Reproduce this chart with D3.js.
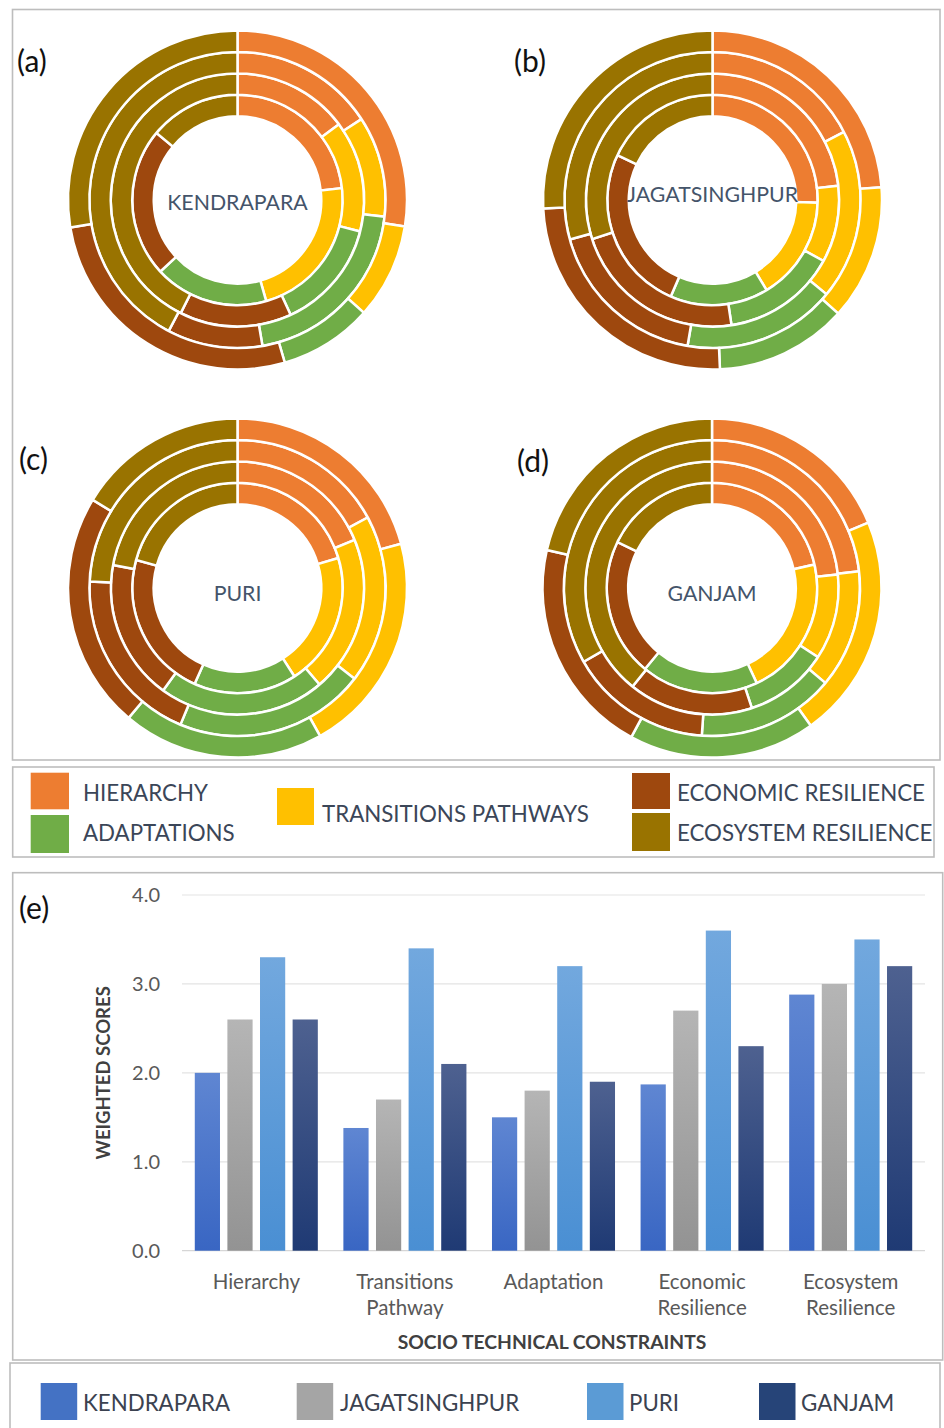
<!DOCTYPE html>
<html>
<head>
<meta charset="utf-8">
<script src="https://cdn.jsdelivr.net/npm/d3@7"></script>
<style>
  html, body { margin: 0; padding: 0; background: #ffffff; }
  svg { display: block; }
  text { font-family: Lato, "Open Sans", "Liberation Sans", sans-serif; }
</style>
</head>
<body>
<svg id="fig" width="944" height="1428"></svg>
<script>
// ---- constraint categories shared by the ring charts ----
const constraints = ["HIERARCHY", "TRANSITIONS PATHWAYS", "ADAPTATIONS", "ECONOMIC RESILIENCE", "ECOSYSTEM RESILIENCE"];
const constraintColors = ["#ED7D31", "#FFC000", "#70AD47", "#9E480E", "#997300"];

// ---- districts ----
const districts = ["KENDRAPARA", "JAGATSINGHPUR", "PURI", "GANJAM"];
const panelTags = ["(a)", "(b)", "(c)", "(d)"];

// ring shares (%) per district, innermost ring first; order follows `constraints`
const kendraparaRings = [
  [23.2, 22.4, 17.5, 22.9, 14.0],
  [14.8, 14.2, 14.1, 14.3, 42.6],
  [15.8, 11.0, 20.5, 10.4, 42.3],
  [27.5, 9.1, 8.9, 26.9, 27.6]
];
const jagatsinghpurRings = [
  [25.4, 16.0, 15.1, 25.5, 18.0],
  [23.2, 9.8, 14.6, 22.4, 30.0],
  [17.4, 18.6, 16.7, 18.0, 29.3],
  [23.8, 12.9, 12.6, 24.9, 25.8]
];
const puriRings = [
  [20.4, 20.5, 15.8, 22.6, 20.7],
  [18.8, 20.0, 21.2, 17.9, 22.1],
  [17.1, 18.4, 20.8, 19.4, 24.3],
  [20.8, 21.1, 19.2, 22.6, 16.3]
];
const ganjamRings = [
  [21.4, 21.6, 18.0, 21.2, 17.8],
  [23.3, 10.9, 10.7, 15.9, 39.2],
  [23.2, 12.9, 15.0, 15.6, 33.3],
  [18.7, 21.4, 17.8, 20.7, 21.4]
];

// ---- weighted scores (bar chart) ----
const barCategories = ["Hierarchy", "Transitions Pathway", "Adaptation", "Economic Resilience", "Ecosystem Resilience"];
const categoryLabelLines = [["Hierarchy"], ["Transitions", "Pathway"], ["Adaptation"], ["Economic", "Resilience"], ["Ecosystem", "Resilience"]];
const kendraparaScores = [2.0, 1.38, 1.5, 1.87, 2.88];
const jagatsinghpurScores = [2.6, 1.7, 1.8, 2.7, 3.0];
const puriScores = [3.3, 3.4, 3.2, 3.6, 3.5];
const ganjamScores = [2.6, 2.1, 1.9, 2.3, 3.2];
const yTicks = [0, 1, 2, 3, 4];
const districtColors = ["#4472C4", "#A5A5A5", "#5B9BD5", "#264478"];
const districtGradients = [["#5f86d2", "#3966c3"], ["#b5b5b5", "#939393"], ["#72a8de", "#4a8fd3"], ["#4e6190", "#1f3a74"]];

const ringSets = [kendraparaRings, jagatsinghpurRings, puriRings, ganjamRings];
const scoreSets = [kendraparaScores, jagatsinghpurScores, puriScores, ganjamScores];

const svg = d3.select("#fig");
svg.append("rect").attr("width", 944).attr("height", 1428).attr("fill", "#ffffff");

const frame = (x, y, w, h) => svg.append("rect")
  .attr("x", x).attr("y", y).attr("width", w).attr("height", h)
  .attr("fill", "none").attr("stroke", "#bdbdbd").attr("stroke-width", 1.6);

// ---------- ring (doughnut) panels ----------
frame(12.5, 9.5, 927.5, 750.5);

const panels = [
  { cx: 237.5, cy: 200, tagX: 17, tagY: 60, labelDy: 2 },
  { cx: 712.5, cy: 200, tagX: 514, tagY: 60, labelDy: -6 },
  { cx: 237.5, cy: 588, tagX: 19, tagY: 458, labelDy: 5 },
  { cx: 712, cy: 588, tagX: 517, tagY: 460, labelDy: 5 }
];
const r0 = 83.75, r1 = 169.5;
const ringScale = d3.scaleLinear().domain([0, 4]).range([r0, r1]);
const pie = d3.pie().sort(null).value(d => d).startAngle(0).endAngle(2 * Math.PI);

panels.forEach((p, i) => {
  const g = svg.append("g").attr("transform", `translate(${p.cx},${p.cy})`);
  ringSets[i].forEach((ring, k) => {
    const arc = d3.arc().innerRadius(ringScale(k)).outerRadius(ringScale(k + 1));
    g.selectAll(null).data(pie(ring)).join("path")
      .attr("d", arc)
      .attr("fill", (d, j) => constraintColors[j])
      .attr("stroke", "#ffffff")
      .attr("stroke-width", 2.5)
      .attr("stroke-linejoin", "miter");
  });
  g.append("text")
    .attr("x", 0).attr("y", p.labelDy)
    .attr("text-anchor", "middle").attr("dominant-baseline", "central")
    .attr("font-size", 21.3).attr("fill", "#44546A")
    .text(districts[i]);
  svg.append("text")
    .attr("x", p.tagX).attr("y", p.tagY)
    .attr("dominant-baseline", "central")
    .attr("font-size", 30).attr("fill", "#111111")
    .text(panelTags[i]);
});

// ---------- constraint legend ----------
frame(12.7, 767, 921.3, 90);
const legendSpots = [
  { x: 30.7, y: 772.7, w: 38.3, h: 36.6, tx: 83, ty: 792 },
  { x: 277, y: 788, w: 37, h: 37, tx: 322, ty: 813 },
  { x: 30.7, y: 815, w: 38.3, h: 38, tx: 83, ty: 832 },
  { x: 632, y: 773, w: 38, h: 36, tx: 677, ty: 792 },
  { x: 632, y: 813, w: 38, h: 38, tx: 677, ty: 832 }
];
constraints.forEach((c, j) => {
  const s = legendSpots[j];
  svg.append("rect").attr("x", s.x).attr("y", s.y).attr("width", s.w).attr("height", s.h)
    .attr("fill", constraintColors[j]);
  svg.append("text").attr("x", s.tx).attr("y", s.ty)
    .attr("dominant-baseline", "central")
    .attr("font-size", 22.3).attr("fill", "#3b4658")
    .text(c);
});

// ---------- weighted score bar chart ----------
frame(12.7, 872.7, 930, 487.3);

const plot = { left: 182, right: 925, top: 895, bottom: 1250.7 };
const x0 = d3.scaleBand().domain(barCategories).range([plot.left, plot.right]).paddingInner(0.172).paddingOuter(0.086);
const x1 = d3.scaleBand().domain(districts).range([0, x0.bandwidth()]).paddingInner(0.227);
const y = d3.scaleLinear().domain([0, 4]).range([plot.bottom, plot.top]);

const defs = svg.append("defs");
districts.forEach((d, i) => {
  const lg = defs.append("linearGradient").attr("id", "grad" + i)
    .attr("x1", 0).attr("y1", 0).attr("x2", 0).attr("y2", 1);
  lg.append("stop").attr("offset", "0%").attr("stop-color", districtGradients[i][0]);
  lg.append("stop").attr("offset", "100%").attr("stop-color", districtGradients[i][1]);
});

// gridlines
svg.append("g").selectAll("line").data(yTicks).join("line")
  .attr("x1", plot.left).attr("x2", plot.right)
  .attr("y1", d => y(d)).attr("y2", d => y(d))
  .attr("stroke", d => d === 0 ? "#d6d6d6" : "#e3e3e3").attr("stroke-width", 1.2);

// y axis tick labels
const yAxis = d3.axisLeft(y).tickValues(yTicks).tickFormat(d3.format(".1f")).tickSize(0).tickPadding(0);
const yg = svg.append("g").attr("transform", "translate(160,0)").call(yAxis);
yg.select(".domain").remove();
yg.selectAll("text").attr("font-size", 20).attr("fill", "#595959")
  .style("font-family", "Lato, 'Open Sans', sans-serif");

// bars
const groups = svg.append("g").selectAll("g").data(barCategories).join("g")
  .attr("transform", c => `translate(${x0(c)},0)`);
groups.selectAll("rect")
  .data((c, ci) => districts.map((d, di) => ({ d, di, v: scoreSets[di][ci] })))
  .join("rect")
  .attr("x", e => x1(e.d))
  .attr("width", x1.bandwidth())
  .attr("y", e => y(e.v))
  .attr("height", e => y(0) - y(e.v))
  .attr("fill", e => `url(#grad${e.di})`);

// x axis category labels
const xAxis = d3.axisBottom(x0).tickSize(0).tickFormat(() => "");
const xg = svg.append("g").attr("transform", `translate(0,${plot.bottom})`).call(xAxis);
xg.select(".domain").remove();
xg.selectAll(".tick").each(function (c, ci) {
  const t = d3.select(this).append("text")
    .attr("text-anchor", "middle").attr("font-size", 20.5).attr("fill", "#595959");
  categoryLabelLines[ci].forEach((line, li) => {
    t.append("tspan").attr("x", 0).attr("y", 30 + li * 26).attr("dominant-baseline", "central").text(line);
  });
});

// axis titles
svg.append("text")
  .attr("transform", `translate(103,${(plot.top + plot.bottom) / 2}) rotate(-90)`)
  .attr("text-anchor", "middle").attr("dominant-baseline", "central")
  .attr("font-size", 18.5).attr("font-weight", 700).attr("fill", "#404040")
  .text("WEIGHTED SCORES");
svg.append("text")
  .attr("x", 552).attr("y", 1341)
  .attr("text-anchor", "middle").attr("dominant-baseline", "central")
  .attr("font-size", 19.3).attr("font-weight", 700).attr("fill", "#404040")
  .text("SOCIO TECHNICAL CONSTRAINTS");
svg.append("text").attr("x", 19).attr("y", 907)
  .attr("dominant-baseline", "central").attr("font-size", 30).attr("fill", "#111111")
  .text("(e)");

// ---------- district legend ----------
frame(10, 1363, 930, 80);
const districtSpots = [
  { x: 40.7, tx: 83 }, { x: 296.7, tx: 340 }, { x: 587, tx: 629 }, { x: 759, tx: 801 }
];
districts.forEach((d, i) => {
  const s = districtSpots[i];
  svg.append("rect").attr("x", s.x).attr("y", 1383).attr("width", 36.5).attr("height", 37)
    .attr("fill", districtColors[i]);
  svg.append("text").attr("x", s.tx).attr("y", 1402)
    .attr("dominant-baseline", "central").attr("font-size", 22.3).attr("fill", "#3b4250")
    .text(d);
});
</script>
</body>
</html>
